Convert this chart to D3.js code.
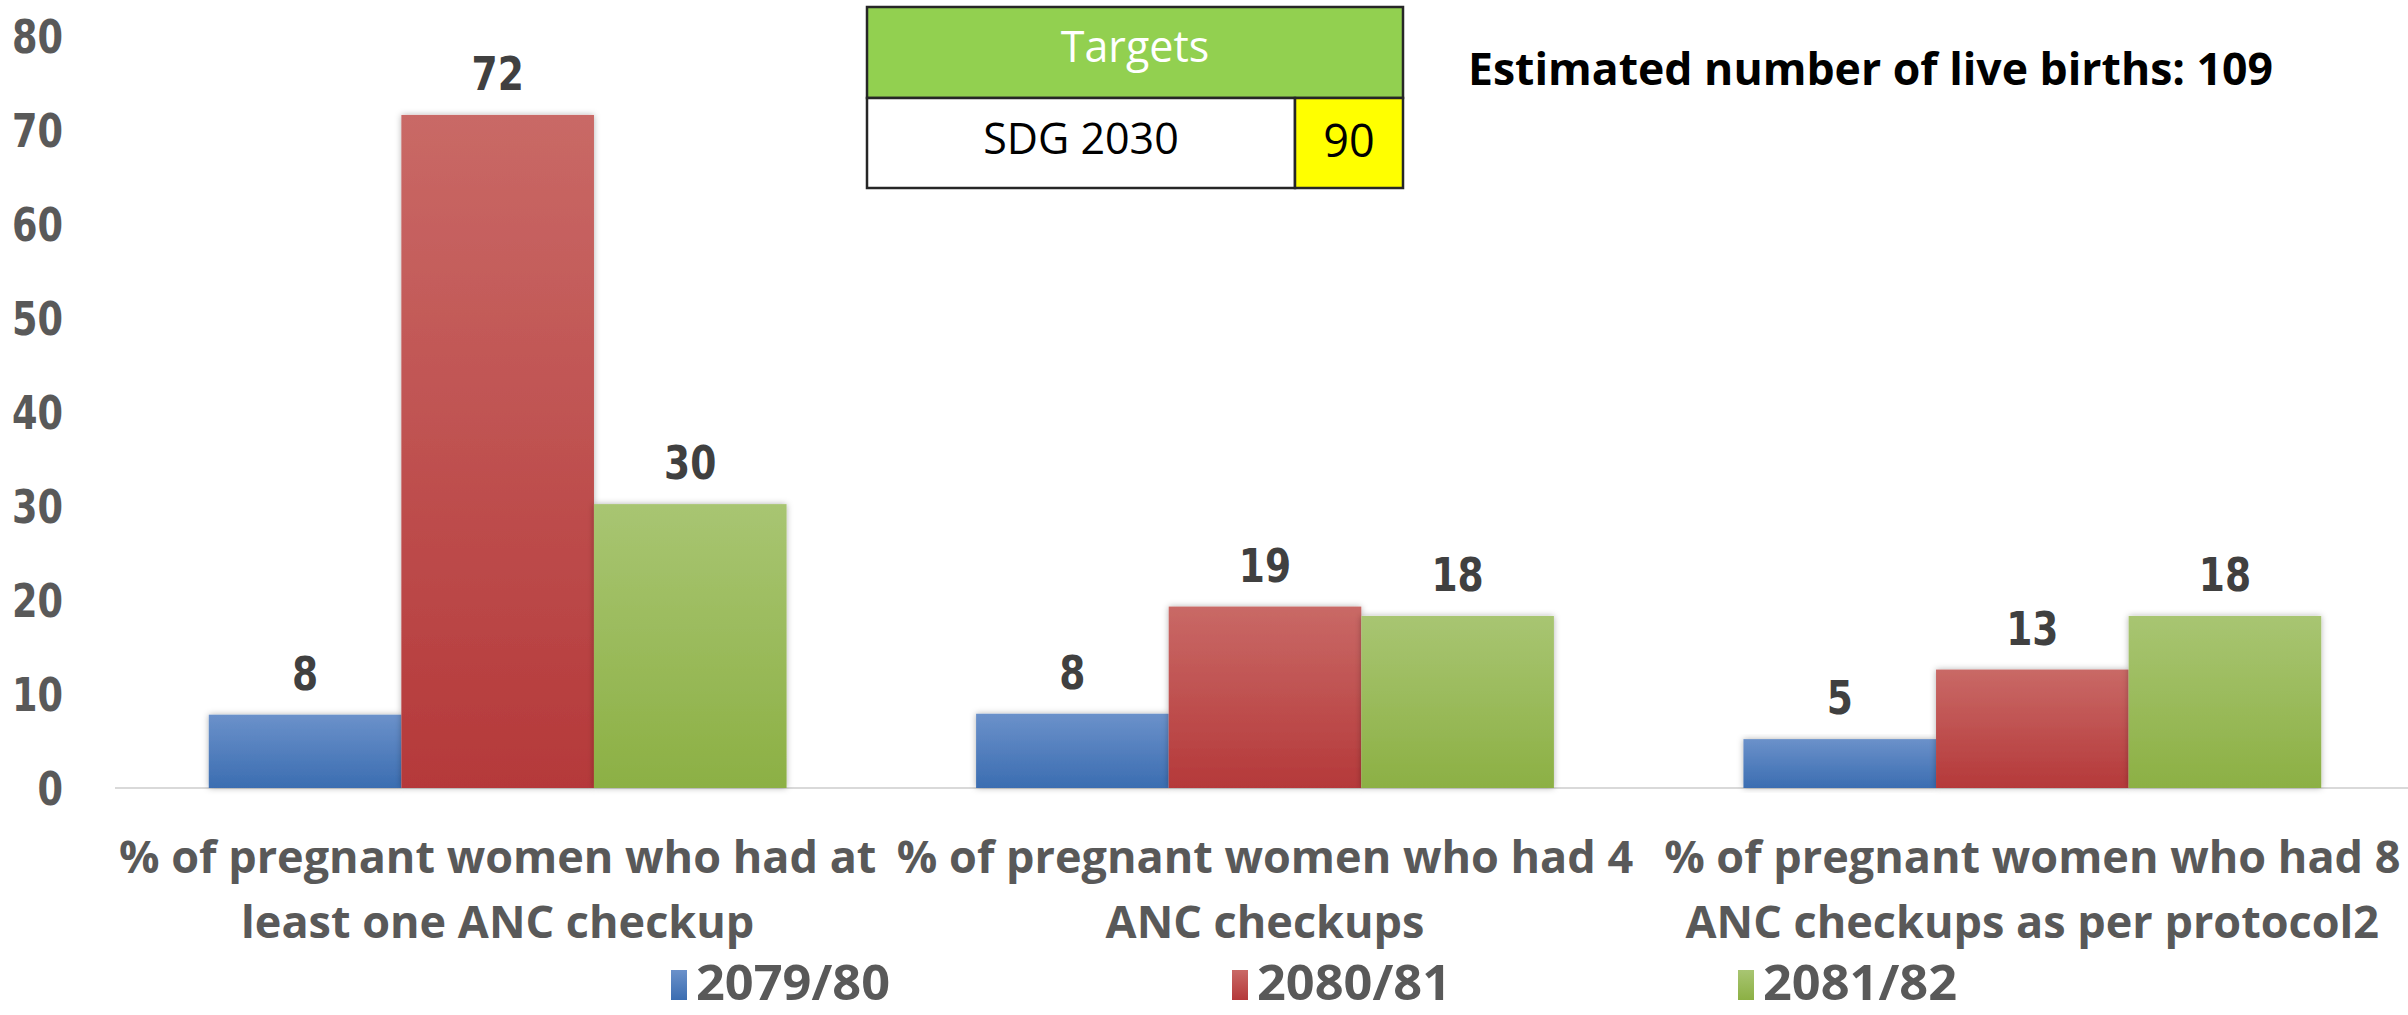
<!DOCTYPE html>
<html>
<head>
<meta charset="utf-8">
<script src="https://cdn.jsdelivr.net/npm/d3@7"></script>
<style>
  body { margin: 0; background: #fff; }
  svg { display: block; }
</style>
</head>
<body>
<div id="chart"></div>
<script>
"use strict";

const width = 2408,
      height = 1015;

// data
const categories = [
  "% of pregnant women who had at|least one ANC checkup",
  "% of pregnant women who had 4|ANC checkups",
  "% of pregnant women who had 8|ANC checkups as per protocol2"
];
const years = ["2079/80", "2080/81", "2081/82"];
const v2079 = [7.8, 7.9, 5.2];
const v2080 = [71.6, 19.3, 12.6];
const v2081 = [30.2, 18.3, 18.3];
const yTicks = [0, 10, 20, 30, 40, 50, 60, 70, 80];
const targetHeader = "Targets";
const targetName = "SDG 2030";
const targetValue = 90;
const liveBirths = 109;

const seriesValues = [v2079, v2080, v2081];
const colors = [
  ["#6b91ca", "#3b6db1"],
  ["#c96966", "#b5393a"],
  ["#a8c572", "#8cb044"]
];

const svg = d3.select("#chart")
  .append("svg")
  .attr("width", width)
  .attr("height", height);

const defs = svg.append("defs");

years.forEach(function(yr, i) {
  const grad = defs.append("linearGradient")
    .attr("id", "grad" + i)
    .attr("x1", 0).attr("y1", 0)
    .attr("x2", 0).attr("y2", 1);
  grad.append("stop").attr("offset", "0%").attr("stop-color", colors[i][0]);
  grad.append("stop").attr("offset", "100%").attr("stop-color", colors[i][1]);
});

const shadow = defs.append("filter")
  .attr("id", "shadow")
  .attr("x", "-10%").attr("y", "-10%")
  .attr("width", "120%").attr("height", "120%");
shadow.append("feDropShadow")
  .attr("dx", 0).attr("dy", 0)
  .attr("stdDeviation", 3)
  .attr("flood-color", "#000")
  .attr("flood-opacity", 0.3);

// squeeze text so wide fallback fonts match the narrow originals
function condense(sel, k) {
  sel.each(function() {
    const w = this.getComputedTextLength();
    d3.select(this)
      .attr("textLength", w * k)
      .attr("lengthAdjust", "spacingAndGlyphs");
  });
}

const x = d3.scaleBand()
  .domain(d3.range(categories.length))
  .range([114, 2416])
  .paddingInner(0.247)
  .paddingOuter(0.1235);

const xSub = d3.scaleBand()
  .domain(years)
  .range([0, x.bandwidth()]);

const y = d3.scaleLinear()
  .domain([0, 80])
  .range([788, 36]);

// y axis labels
const yAxis = svg.append("g")
  .attr("transform", "translate(63,0)")
  .call(d3.axisLeft(y).tickValues(yTicks).tickSize(0).tickPadding(0));
yAxis.select(".domain").remove();
yAxis.selectAll("text")
  .attr("font-family", "DejaVu Sans")
  .attr("font-weight", "bold")
  .attr("font-size", 47)
  .attr("fill", "#595959")
  .attr("dy", "0.36em")
  .call(condense, 0.78);

// baseline
svg.append("line")
  .attr("x1", 115).attr("x2", width)
  .attr("y1", y(0)).attr("y2", y(0))
  .attr("stroke", "#d9d9d9")
  .attr("stroke-width", 2);

// bars
const groups = svg.selectAll("g.group")
  .data(categories)
  .join("g")
    .attr("class", "group")
    .attr("transform", (d, i) => `translate(${x(i)},0)`);

groups.each(function(cat, ci) {
  const g = d3.select(this);
  const cells = years.map((yr, si) => ({ yr: yr, si: si, v: seriesValues[si][ci] }));

  g.selectAll("rect")
    .data(cells)
    .join("rect")
      .attr("x", d => xSub(d.yr))
      .attr("width", xSub.bandwidth())
      .attr("y", d => y(d.v))
      .attr("height", d => y(0) - y(d.v))
      .attr("fill", d => `url(#grad${d.si})`)
      .attr("filter", "url(#shadow)");

  g.selectAll("text.val")
    .data(cells)
    .join("text")
      .attr("class", "val")
      .attr("x", d => xSub(d.yr) + xSub.bandwidth() / 2)
      .attr("y", d => y(d.v) - 25)
      .attr("text-anchor", "middle")
      .attr("font-family", "DejaVu Sans")
      .attr("font-weight", "bold")
      .attr("font-size", 47)
      .attr("fill", "#404040")
      .text(d => d3.format(".0f")(d.v))
      .call(condense, 0.8);
});

// category labels
svg.selectAll("text.cat")
  .data(categories)
  .join("text")
    .attr("class", "cat")
    .attr("text-anchor", "middle")
    .attr("font-family", "Open Sans")
    .attr("font-weight", "bold")
    .attr("font-size", 45)
    .attr("fill", "#595959")
  .each(function(d, i) {
    const t = d3.select(this);
    d.split("|").forEach(function(line, li) {
      t.append("tspan")
        .attr("x", x(i) + x.bandwidth() / 2)
        .attr("y", 873 + li * 65)
        .text(line);
    });
  });

// legend
const legendX = [671, 1232, 1738];
const legend = svg.selectAll("g.legend")
  .data(years)
  .join("g")
    .attr("class", "legend")
    .attr("transform", (d, i) => `translate(${legendX[i]},0)`);

legend.append("rect")
  .attr("x", 0)
  .attr("y", 970)
  .attr("width", 16)
  .attr("height", 30)
  .attr("fill", (d, i) => `url(#grad${i})`);

legend.append("text")
  .attr("x", 25)
  .attr("y", 1000)
  .attr("font-family", "Open Sans")
  .attr("font-weight", "bold")
  .attr("font-size", 49)
  .attr("fill", "#595959")
  .text(d => d)
  .call(condense, 1.03);

// targets table
const table = svg.append("g");
table.append("rect")
  .attr("x", 867).attr("y", 7)
  .attr("width", 536).attr("height", 91)
  .attr("fill", "#92d050")
  .attr("stroke", "#262626")
  .attr("stroke-width", 2.5);
table.append("rect")
  .attr("x", 867).attr("y", 98)
  .attr("width", 428).attr("height", 90)
  .attr("fill", "#fff")
  .attr("stroke", "#262626")
  .attr("stroke-width", 2.5);
table.append("rect")
  .attr("x", 1295).attr("y", 98)
  .attr("width", 108).attr("height", 90)
  .attr("fill", "#ffff00")
  .attr("stroke", "#262626")
  .attr("stroke-width", 2.5);

table.append("text")
  .attr("x", 1135).attr("y", 62)
  .attr("text-anchor", "middle")
  .attr("font-family", "Open Sans")
  .attr("font-size", 43)
  .attr("fill", "#fff")
  .text(targetHeader);
table.append("text")
  .attr("x", 1081).attr("y", 154)
  .attr("text-anchor", "middle")
  .attr("font-family", "Open Sans")
  .attr("font-size", 43)
  .attr("fill", "#000")
  .text(targetName);
table.append("text")
  .attr("x", 1349).attr("y", 157)
  .attr("text-anchor", "middle")
  .attr("font-family", "Open Sans")
  .attr("font-size", 45)
  .attr("fill", "#000")
  .text(targetValue);

svg.append("text")
  .attr("x", 1468).attr("y", 85)
  .attr("font-family", "Open Sans")
  .attr("font-weight", "bold")
  .attr("font-size", 45)
  .attr("fill", "#000")
  .text("Estimated number of live births: " + liveBirths)
  .call(condense, 0.99);
</script>
</body>
</html>
